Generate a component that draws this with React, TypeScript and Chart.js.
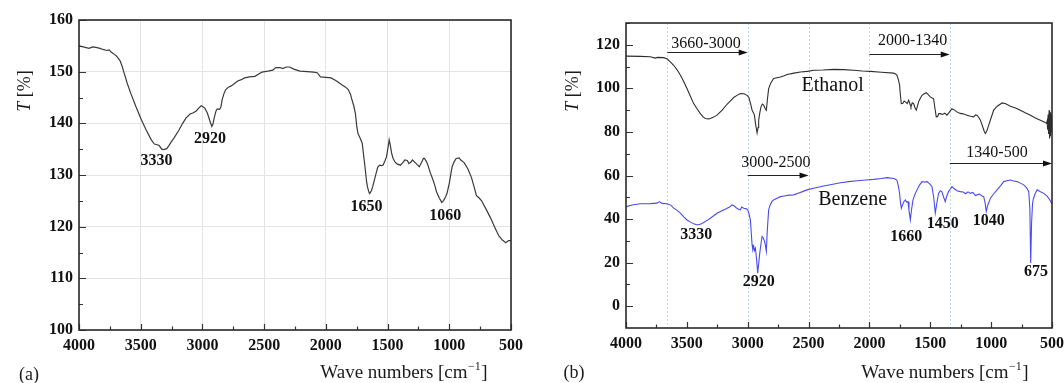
import React, { useEffect, useRef } from 'react';
import { Chart, registerables } from 'chart.js';

Chart.register(...registerables);

const FONT = '"Liberation Serif", "Times New Roman", serif';

// ---------- tick labels ----------
const X_TICKS = [4000, 3500, 3000, 2500, 2000, 1500, 1000, 500];
const Y_TICKS_A = [100, 110, 120, 130, 140, 150, 160];
const Y_TICKS_B = [0, 20, 40, 60, 80, 100, 120];

// ---------- panel (a) spectrum ----------
const WN_A = [4000, 3950, 3919, 3890, 3863, 3830, 3807, 3775, 3755, 3740, 3710, 3695, 3667, 3650, 3639, 3610, 3582, 3540, 3500, 3456, 3414, 3390, 3372, 3350, 3330, 3316, 3290, 3274, 3250, 3232, 3190, 3160, 3134, 3100, 3078, 3050, 3036, 3010, 3000, 2980, 2960, 2940, 2924, 2915, 2905, 2890, 2880, 2860, 2850, 2840, 2825, 2812, 2790, 2770, 2740, 2714, 2690, 2658, 2620, 2575, 2540, 2518, 2470, 2430, 2406, 2370, 2350, 2320, 2294, 2260, 2210, 2150, 2100, 2070, 2050, 2043, 2000, 1958, 1920, 1874, 1840, 1817, 1800, 1789, 1775, 1761, 1750, 1740, 1733, 1720, 1705, 1695, 1683, 1670, 1663, 1650, 1643, 1630, 1621, 1605, 1593, 1580, 1565, 1550, 1537, 1520, 1509, 1495, 1487, 1478, 1467, 1455, 1439, 1420, 1397, 1380, 1360, 1340, 1327, 1310, 1299, 1280, 1260, 1243, 1225, 1210, 1201, 1185, 1173, 1155, 1131, 1115, 1103, 1080, 1061, 1045, 1030, 1019, 1000, 977, 960, 944, 920, 907, 880, 850, 820, 800, 780, 760, 738, 700, 668, 630, 598, 570, 542, 520, 500];
const T_A = [155.0, 154.7, 154.5, 154.8, 154.7, 154.5, 154.3, 154.1, 154.2, 153.8, 153.3, 153.0, 152.1, 151.0, 150.1, 147.8, 145.9, 143.3, 141.0, 138.7, 136.8, 136.0, 135.9, 135.7, 135.0, 134.9, 135.1, 135.6, 136.5, 137.1, 138.7, 140.0, 141.0, 141.8, 142.0, 142.4, 142.8, 143.4, 143.3, 142.9, 142.0, 140.5, 139.4, 139.8, 141.0, 142.4, 142.8, 142.7, 143.2, 144.6, 145.8, 146.5, 147.0, 147.2, 147.7, 148.2, 148.4, 148.8, 149.0, 149.1, 149.6, 149.9, 150.1, 150.3, 150.8, 150.8, 150.6, 150.9, 150.9, 150.5, 150.1, 150.0, 149.9, 149.8, 149.2, 149.0, 148.9, 148.8, 148.3, 147.5, 147.0, 146.5, 145.6, 144.6, 143.5, 142.0, 139.5, 138.0, 137.7, 137.0, 136.1, 134.0, 131.6, 128.7, 127.7, 126.6, 126.5, 127.0, 127.7, 129.2, 130.3, 131.5, 131.9, 131.8, 131.9, 132.8, 133.5, 135.5, 136.8, 135.8, 134.2, 133.2, 132.5, 132.1, 131.9, 132.3, 132.9, 132.8, 132.2, 132.5, 132.9, 132.5, 132.0, 131.6, 132.4, 133.2, 133.2, 132.6, 131.9, 130.5, 129.0, 127.8, 126.7, 125.5, 124.7, 125.1, 125.8, 126.4, 128.4, 131.6, 132.6, 133.2, 133.3, 132.9, 132.4, 131.2, 129.5, 127.8, 126.0, 125.6, 125.0, 123.3, 121.8, 119.8, 118.2, 117.4, 116.9, 117.3, 117.3];

// ---------- panel (b) spectra ----------
const WN_ETH = [4000, 3882, 3800, 3760, 3740, 3690, 3660, 3649, 3630, 3608, 3580, 3553, 3525, 3499, 3470, 3444, 3415, 3389, 3365, 3348, 3320, 3307, 3280, 3252, 3210, 3170, 3140, 3115, 3085, 3060, 3030, 3005, 2990, 2984, 2970, 2964, 2950, 2945, 2935, 2923, 2915, 2910, 2900, 2891, 2880, 2869, 2855, 2847, 2838, 2828, 2810, 2787, 2760, 2732, 2700, 2677, 2620, 2567, 2510, 2458, 2380, 2294, 2210, 2130, 2060, 1993, 1900, 1801, 1785, 1774, 1762, 1752, 1745, 1738, 1725, 1715, 1705, 1690, 1678, 1665, 1659, 1648, 1637, 1625, 1615, 1605, 1596, 1582, 1568, 1550, 1533, 1515, 1500, 1485, 1473, 1462, 1451, 1440, 1430, 1418, 1400, 1380, 1363, 1345, 1322, 1300, 1281, 1255, 1230, 1198, 1170, 1143, 1128, 1116, 1100, 1088, 1070, 1055, 1047, 1035, 1020, 1000, 979, 950, 910, 880, 842, 800, 760, 720, 677, 640, 596, 560, 545, 540, 536, 532, 528, 524, 520, 516, 512, 508, 504, 500];
const T_ETH = [114.8, 114.7, 114.5, 113.9, 114.2, 114.1, 113.5, 112.8, 111.8, 110.6, 108.5, 106.0, 103.0, 99.9, 96.3, 93.0, 90.5, 88.4, 86.8, 86.2, 86.0, 86.2, 86.8, 87.7, 90.0, 92.7, 94.4, 95.8, 96.9, 97.6, 97.5, 96.8, 95.8, 94.5, 91.5, 89.9, 88.5, 87.7, 83.5, 79.6, 82.0, 85.4, 89.0, 91.5, 92.8, 92.3, 90.5, 89.9, 95.0, 99.9, 102.5, 104.5, 104.9, 105.2, 105.8, 106.4, 107.0, 107.5, 107.8, 108.3, 108.4, 108.7, 108.6, 108.3, 108.0, 107.8, 107.4, 107.0, 106.6, 106.0, 104.0, 101.4, 96.5, 93.0, 93.2, 94.2, 93.8, 93.0, 94.5, 92.5, 91.5, 93.4, 93.0, 91.0, 90.0, 92.0, 93.8, 95.5, 96.8, 97.5, 98.0, 97.0, 96.1, 95.6, 95.3, 91.0, 86.9, 87.0, 88.4, 88.4, 88.0, 88.6, 87.7, 89.0, 90.7, 90.0, 89.2, 88.5, 88.3, 87.7, 87.2, 86.9, 87.8, 87.7, 86.5, 85.4, 82.5, 80.0, 79.3, 80.5, 83.1, 86.5, 90.0, 91.8, 93.3, 92.9, 91.8, 91.0, 90.0, 88.8, 87.7, 86.5, 85.4, 84.5, 83.9, 85.0, 81.0, 88.0, 79.0, 90.0, 77.0, 89.0, 78.0, 88.0, 80.0, 84.0];

const WN_BEN = [4000, 3940, 3882, 3800, 3745, 3725, 3705, 3663, 3630, 3608, 3580, 3553, 3525, 3499, 3470, 3444, 3420, 3403, 3380, 3362, 3330, 3307, 3280, 3252, 3220, 3184, 3150, 3129, 3110, 3095, 3088, 3075, 3060, 3050, 3033, 3015, 3000, 2990, 2978, 2970, 2964, 2958, 2951, 2945, 2937, 2928, 2918, 2910, 2901, 2890, 2882, 2872, 2863, 2855, 2847, 2840, 2828, 2815, 2800, 2787, 2760, 2730, 2700, 2660, 2623, 2580, 2550, 2513, 2450, 2376, 2300, 2239, 2170, 2102, 2030, 1965, 1900, 1855, 1800, 1774, 1762, 1752, 1745, 1738, 1725, 1715, 1705, 1695, 1683, 1675, 1664, 1655, 1642, 1625, 1609, 1590, 1568, 1550, 1527, 1505, 1486, 1472, 1459, 1450, 1432, 1418, 1405, 1390, 1377, 1365, 1350, 1335, 1322, 1300, 1280, 1254, 1230, 1210, 1190, 1171, 1150, 1130, 1116, 1095, 1075, 1061, 1050, 1040, 1030, 1006, 980, 951, 920, 897, 870, 842, 815, 787, 760, 732, 710, 691, 682, 675, 668, 660, 655, 640, 622, 595, 568, 540, 520, 500];
const T_BEN = [45.7, 46.6, 47.0, 47.1, 47.3, 48.0, 47.2, 47.0, 46.3, 45.0, 44.0, 42.7, 41.0, 39.6, 38.6, 37.8, 37.4, 37.4, 37.8, 38.4, 39.5, 40.4, 41.5, 42.7, 43.6, 44.5, 45.5, 46.5, 46.0, 45.2, 45.0, 44.5, 44.2, 45.5, 45.0, 44.8, 44.2, 42.5, 39.6, 33.0, 28.2, 26.0, 27.4, 25.5, 26.7, 22.0, 15.2, 19.5, 24.4, 29.0, 32.0, 31.3, 30.0, 28.0, 25.2, 34.0, 44.2, 46.5, 48.2, 48.8, 49.6, 50.3, 50.6, 51.0, 51.1, 52.0, 52.6, 53.4, 54.3, 55.2, 56.0, 56.7, 57.2, 57.6, 57.9, 58.2, 58.6, 59.0, 58.6, 57.9, 55.0, 51.8, 47.5, 45.0, 47.0, 48.2, 48.8, 47.8, 48.0, 44.0, 39.6, 44.0, 48.8, 51.5, 53.4, 55.5, 57.2, 57.0, 57.2, 56.2, 54.9, 50.0, 42.7, 46.0, 51.8, 53.0, 52.6, 50.0, 48.0, 50.5, 52.6, 53.8, 54.9, 53.8, 53.0, 52.6, 52.4, 51.6, 52.5, 51.8, 52.2, 50.8, 51.1, 51.5, 50.6, 50.3, 47.5, 43.5, 46.0, 49.6, 51.5, 53.4, 55.5, 57.2, 57.6, 57.9, 57.5, 57.2, 56.5, 55.7, 54.5, 52.6, 45.0, 19.8, 38.0, 47.0, 48.8, 51.5, 53.4, 52.5, 51.8, 50.5, 49.0, 47.0];

// ---------- annotations (data coordinates) ----------
const PEAKS_A = [
  { label: '3330', wn: 3372, t: 132.7 },
  { label: '2920', wn: 2938, t: 136.9 },
  { label: '1650', wn: 1671, t: 123.9 },
  { label: '1060', wn: 1032, t: 122.1 },
];
const PEAKS_B = [
  { label: '3330', wn: 3422, t: 32.8 },
  { label: '2920', wn: 2910, t: 11.0 },
  { label: '1660', wn: 1697, t: 31.7 },
  { label: '1450', wn: 1398, t: 37.7 },
  { label: '1040', wn: 1020, t: 39.2 },
  { label: '675', wn: 632, t: 15.6 },
];
const NAMES_B = [
  { label: 'Ethanol', wn: 2302, t: 101.4 },
  { label: 'Benzene', wn: 2138, t: 48.8 },
];
const RANGES_B = [
  { label: '3660-3000', from: 3660, to: 3000, t: 116.7, labelWn: 3343, labelT: 120.5 },
  { label: '2000-1340', from: 2000, to: 1340, t: 115.9, labelWn: 1645, labelT: 121.7 },
  { label: '3000-2500', from: 3000, to: 2500, t: 60.1, labelWn: 2768, labelT: 66.0 },
  { label: '1340-500', from: 1340, to: 500, t: 65.6, labelWn: 952, labelT: 70.4 },
];
const GUIDES_B = [3660, 3000, 2500, 2000, 1340];

const toXY = (xs: number[], ys: number[]) => xs.map((x, i) => ({ x, y: ys[i] }));

type PanelOpts = {
  yMin: number;
  yMax: number;
  yTicks: number[];
  yMinorStep: number;
  yAxisWidth: number;
  padRight: number;
  padTop: number;
  xAxisHeight: number;
  grid: boolean;
  panelLabel: string;
  panelLabelPos: [number, number];
  yTitlePos: [number, number];
  xTitleCenterFromRight: number;
  xTitleY: number;
  draw: (chart: any, ctx: CanvasRenderingContext2D) => void;
  guides: (chart: any, ctx: CanvasRenderingContext2D) => void;
  datasets: any[];
};

function buildChart(canvas: HTMLCanvasElement, o: PanelOpts) {
  const framePlugin = {
    id: 'framePlugin',
    beforeDatasetsDraw(chart: any) {
      o.guides(chart, chart.ctx);
    },
    afterDraw(chart: any) {
      const ctx: CanvasRenderingContext2D = chart.ctx;
      const a = chart.chartArea;
      const xs = chart.scales.x;
      const ys = chart.scales.y;
      ctx.save();
      // inward ticks
      ctx.strokeStyle = '#333';
      ctx.lineWidth = 1.2;
      ctx.beginPath();
      for (let v = 500; v <= 4000; v += 250) {
        const px = Math.round(xs.getPixelForValue(v)) + 0.5;
        const len = v % 500 === 0 ? 6 : 3.5;
        ctx.moveTo(px, a.bottom);
        ctx.lineTo(px, a.bottom - len);
      }
      for (let v = o.yTicks[0]; v <= o.yMax + 1e-9; v += o.yMinorStep) {
        const py = Math.round(ys.getPixelForValue(v)) + 0.5;
        const major = o.yTicks.includes(v);
        ctx.moveTo(a.left, py);
        ctx.lineTo(a.left + (major ? 7 : 4), py);
      }
      ctx.stroke();
      // frame
      ctx.strokeStyle = '#2a2a2a';
      ctx.lineWidth = 1.6;
      ctx.strokeRect(a.left, a.top, a.right - a.left, a.bottom - a.top);

      // annotations
      o.draw(chart, ctx);

      // y title: T [%]
      ctx.fillStyle = '#1a1a1a';
      ctx.save();
      ctx.translate(o.yTitlePos[0], o.yTitlePos[1]);
      ctx.rotate(-Math.PI / 2);
      ctx.textBaseline = 'middle';
      ctx.textAlign = 'left';
      ctx.font = `italic 18px ${FONT}`;
      const wT = ctx.measureText('T').width;
      ctx.font = `18px ${FONT}`;
      const wRest = ctx.measureText(' [%]').width;
      const start = -(wT + wRest) / 2;
      ctx.font = `italic 18px ${FONT}`;
      ctx.fillText('T', start, 0);
      ctx.font = `18px ${FONT}`;
      ctx.fillText(' [%]', start + wT, 0);
      ctx.restore();

      // x title: Wave numbers [cm^-1]
      ctx.textBaseline = 'alphabetic';
      ctx.textAlign = 'left';
      const main = 'Wave numbers [cm';
      const sup = '\u22121';
      ctx.font = `19px ${FONT}`;
      const w1 = ctx.measureText(main).width;
      const w3 = ctx.measureText(']').width;
      ctx.font = `12px ${FONT}`;
      const w2 = ctx.measureText(sup).width;
      const total = w1 + w2 + w3 + 1;
      const cx = a.right - o.xTitleCenterFromRight;
      const x0 = cx - total / 2;
      const by = o.xTitleY + 6;
      ctx.font = `19px ${FONT}`;
      ctx.fillText(main, x0, by);
      ctx.font = `12px ${FONT}`;
      ctx.fillText(sup, x0 + w1 + 0.5, by - 8);
      ctx.font = `19px ${FONT}`;
      ctx.fillText(']', x0 + w1 + w2 + 1, by);

      // panel label
      ctx.font = `18px ${FONT}`;
      ctx.textAlign = 'center';
      ctx.textBaseline = 'middle';
      ctx.fillText(o.panelLabel, o.panelLabelPos[0], o.panelLabelPos[1]);
      ctx.restore();
    },
  };

  const tickFont = { family: FONT, size: 16, weight: 'bold' as const };

  return new Chart(canvas, {
    type: 'line',
    data: { datasets: o.datasets },
    options: {
      animation: false,
      responsive: false,
      devicePixelRatio: 1,
      layout: { padding: { left: 0, right: o.padRight, top: o.padTop, bottom: 0 } },
      plugins: { legend: { display: false }, tooltip: { enabled: false }, title: { display: false } },
      elements: { point: { radius: 0 }, line: { tension: 0 } },
      scales: {
        x: {
          type: 'linear',
          reverse: true,
          min: 500,
          max: 4000,
          afterBuildTicks: (s: any) => {
            s.ticks = X_TICKS.map((value) => ({ value }));
          },
          afterFit: (s: any) => {
            s.height = o.xAxisHeight;
          },
          ticks: {
            font: tickFont,
            color: '#111',
            padding: 6,
            maxRotation: 0,
            autoSkip: false,
            callback: (v: any) => String(v),
          },
          grid: { display: o.grid, color: '#e4e4e4', lineWidth: 1, drawTicks: false },
          border: { display: false },
        },
        y: {
          type: 'linear',
          min: o.yMin,
          max: o.yMax,
          afterBuildTicks: (s: any) => {
            s.ticks = o.yTicks.map((value) => ({ value }));
          },
          afterFit: (s: any) => {
            s.width = o.yAxisWidth;
          },
          ticks: {
            font: tickFont,
            color: '#111',
            padding: 6,
            autoSkip: false,
            callback: (v: any) => String(v),
          },
          grid: { display: o.grid, color: '#e4e4e4', lineWidth: 1, drawTicks: false },
          border: { display: false },
        },
      },
    },
    plugins: [framePlugin],
  } as any);
}

export default function App() {
  const refA = useRef<HTMLCanvasElement | null>(null);
  const refB = useRef<HTMLCanvasElement | null>(null);

  useEffect(() => {
    if (!refA.current || !refB.current) return;

    const chartA = buildChart(refA.current, {
      yMin: 100,
      yMax: 160,
      yTicks: Y_TICKS_A,
      yMinorStep: 5,
      yAxisWidth: 79,
      padRight: 29,
      padTop: 20,
      xAxisHeight: 53,
      grid: true,
      panelLabel: '(a)',
      panelLabelPos: [29, 375],
      yTitlePos: [25, 91],
      xTitleCenterFromRight: 107,
      xTitleY: 372,
      guides: () => {},
      draw: (chart, ctx) => {
        const xs = chart.scales.x;
        const ys = chart.scales.y;
        ctx.fillStyle = '#111';
        ctx.font = `bold 16px ${FONT}`;
        ctx.textAlign = 'center';
        ctx.textBaseline = 'middle';
        PEAKS_A.forEach((p) => ctx.fillText(p.label, xs.getPixelForValue(p.wn), ys.getPixelForValue(p.t)));
      },
      datasets: [
        {
          data: toXY(WN_A, T_A),
          borderColor: '#3a3a3a',
          borderWidth: 1.2,
          pointRadius: 0,
          fill: false,
        },
      ],
    });

    const chartB = buildChart(refB.current, {
      yMin: -10,
      yMax: 130,
      yTicks: Y_TICKS_B,
      yMinorStep: 10,
      yAxisWidth: 86,
      padRight: 28,
      padTop: 23,
      xAxisHeight: 55,
      grid: false,
      panelLabel: '(b)',
      panelLabelPos: [34, 373],
      yTitlePos: [33, 91],
      xTitleCenterFromRight: 107,
      xTitleY: 372,
      guides: (chart, ctx) => {
        const xs = chart.scales.x;
        const a = chart.chartArea;
        ctx.save();
        ctx.strokeStyle = '#b9dde6';
        ctx.lineWidth = 1;
        ctx.setLineDash([2, 2]);
        ctx.beginPath();
        GUIDES_B.forEach((g) => {
          const px = Math.round(xs.getPixelForValue(g)) + 0.5;
          ctx.moveTo(px, a.top);
          ctx.lineTo(px, a.bottom);
        });
        ctx.stroke();
        ctx.restore();
      },
      draw: (chart, ctx) => {
        const xs = chart.scales.x;
        const ys = chart.scales.y;
        ctx.fillStyle = '#111';
        ctx.textAlign = 'center';
        ctx.textBaseline = 'middle';
        ctx.font = `bold 16px ${FONT}`;
        PEAKS_B.forEach((p) => ctx.fillText(p.label, xs.getPixelForValue(p.wn), ys.getPixelForValue(p.t)));
        ctx.font = `20px ${FONT}`;
        NAMES_B.forEach((p) => ctx.fillText(p.label, xs.getPixelForValue(p.wn), ys.getPixelForValue(p.t)));
        ctx.font = `16px ${FONT}`;
        RANGES_B.forEach((r) => {
          ctx.fillText(r.label, xs.getPixelForValue(r.labelWn), ys.getPixelForValue(r.labelT));
          const x1 = xs.getPixelForValue(r.from);
          const x2 = xs.getPixelForValue(r.to);
          const y = Math.round(ys.getPixelForValue(r.t)) + 0.5;
          ctx.strokeStyle = '#222';
          ctx.lineWidth = 1;
          ctx.beginPath();
          ctx.moveTo(x1, y);
          ctx.lineTo(x2 - 6, y);
          ctx.stroke();
          ctx.beginPath();
          ctx.moveTo(x2, y);
          ctx.lineTo(x2 - 9, y - 3);
          ctx.lineTo(x2 - 9, y + 3);
          ctx.closePath();
          ctx.fill();
        });
      },
      datasets: [
        {
          data: toXY(WN_ETH, T_ETH),
          borderColor: '#2e2e2e',
          borderWidth: 1.1,
          pointRadius: 0,
          fill: false,
        },
        {
          data: toXY(WN_BEN, T_BEN),
          borderColor: '#4a4af0',
          borderWidth: 1.1,
          pointRadius: 0,
          fill: false,
        },
      ],
    });

    return () => {
      chartA.destroy();
      chartB.destroy();
    };
  }, []);

  return (
    <div style={{ position: 'absolute', left: 0, top: 0, width: 1064, height: 383, background: '#fff', overflow: 'hidden' }}>
      <canvas ref={refA} width={540} height={383} style={{ position: 'absolute', left: 0, top: 0, width: 540, height: 383 }} />
      <canvas ref={refB} width={540} height={383} style={{ position: 'absolute', left: 540, top: 0, width: 540, height: 383 }} />
    </div>
  );
}
